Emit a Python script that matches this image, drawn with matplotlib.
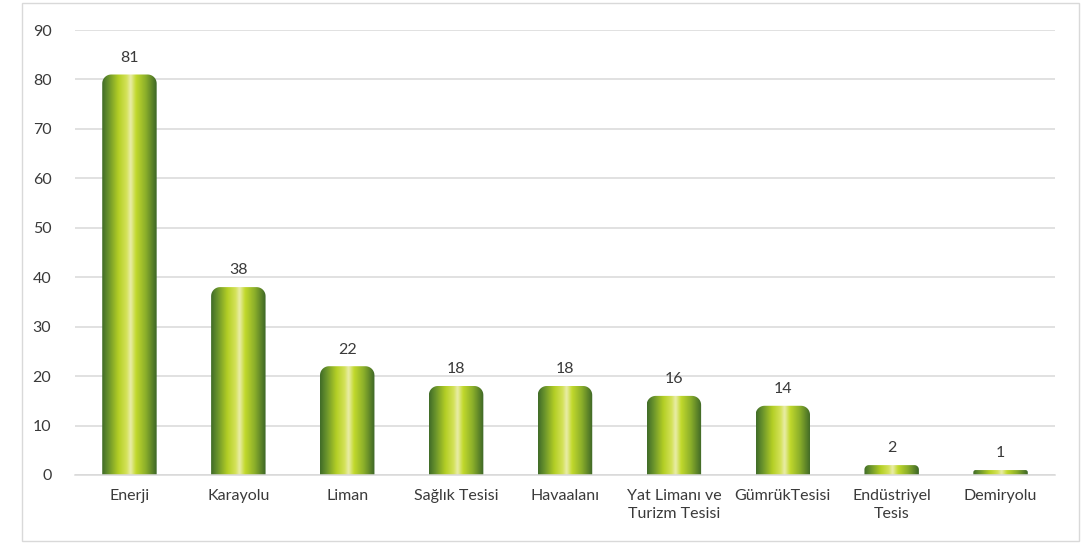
import numpy as np
import matplotlib.pyplot as plt
from matplotlib.path import Path
from matplotlib.patches import PathPatch, Rectangle
from matplotlib.colors import LinearSegmentedColormap

plt.rcParams['font.family'] = ['Lato', 'DejaVu Sans']

categories = ['Enerji', 'Karayolu', 'Liman', 'Sağlık Tesisi', 'Havaalanı',
              'Yat Limanı ve\nTurizm Tesisi', 'GümrükTesisi', 'Endüstriyel\nTesis',
              'Demiryolu']
values = [81, 38, 22, 18, 18, 16, 14, 2, 1]
yticks = [0, 10, 20, 30, 40, 50, 60, 70, 80, 90]

W, H = 1086, 547
fig = plt.figure(figsize=(W / 100, H / 100), dpi=100)
ax = fig.add_axes([75 / W, 72 / H, 980 / W, 445 / H])

n = len(categories)
ax.set_xlim(-0.5, n - 0.5)
ax.set_ylim(0, 90)

# grid and axis styling
ax.set_yticks(yticks)
ax.yaxis.grid(True, color='#d9d9d9', linewidth=1.1)
ax.set_axisbelow(True)
for s in ['top', 'right', 'left']:
    ax.spines[s].set_visible(False)
ax.spines['bottom'].set_color('#d9d9d9')
ax.spines['bottom'].set_linewidth(1.1)
ax.tick_params(axis='both', length=0, labelsize=11.5, colors='#3a3a3a')
ax.tick_params(axis='y', pad=17)
ax.tick_params(axis='x', pad=10)
ax.set_xticks(range(n))
ax.set_xticklabels(categories, linespacing=1.4)

# horizontal gradient used for each bar
cmap = LinearSegmentedColormap.from_list('barg', [
    (0.00, '#3f6b28'), (0.12, '#6a942c'), (0.30, '#b4cf25'),
    (0.45, '#d4e25a'), (0.52, '#eaedaa'), (0.62, '#c2d92c'),
    (0.80, '#8aae2a'), (1.00, '#3b6527')])
grad = np.linspace(0, 1, 256).reshape(1, -1)

px_x = 980 / n          # pixels per x unit
px_y = 445 / 90         # pixels per y unit
bw = 0.5


def bar_path(xc, h):
    r_px = min(9, h * px_y * 0.45)
    rx, ry = r_px / px_x, r_px / px_y
    x0, x1 = xc - bw / 2, xc + bw / 2
    t = np.linspace(0, np.pi / 2, 12)
    left = np.column_stack([x0 + rx - rx * np.cos(t), h - ry + ry * np.sin(t)])
    right = np.column_stack([x1 - rx + rx * np.sin(t), h - ry + ry * np.cos(t)])
    verts = np.vstack([[x0, 0], left, right, [x1, 0], [x0, 0]])
    codes = [Path.MOVETO] + [Path.LINETO] * (len(verts) - 2) + [Path.CLOSEPOLY]
    return Path(verts, codes)


for i, v in enumerate(values):
    patch = PathPatch(bar_path(i, v), facecolor='none', edgecolor='none')
    ax.add_patch(patch)
    im = ax.imshow(grad, cmap=cmap, aspect='auto', interpolation='bicubic',
                   extent=[i - bw / 2, i + bw / 2, 0, v], zorder=2)
    im.set_clip_path(patch)
    ax.annotate(str(v), (i, v), xytext=(0, 7), textcoords='offset points',
                ha='center', va='bottom', fontsize=11.5, color='#3a3a3a')

ax.set_xlim(-0.5, n - 0.5)
ax.set_ylim(0, 90)

# outer chart border
fig.patches.append(Rectangle((22 / W, 6 / H), 1057 / W, 538 / H,
                             transform=fig.transFigure, fill=False,
                             edgecolor='#d9d9d9', linewidth=1))

fig.savefig('out.png', dpi=100, facecolor='white')
